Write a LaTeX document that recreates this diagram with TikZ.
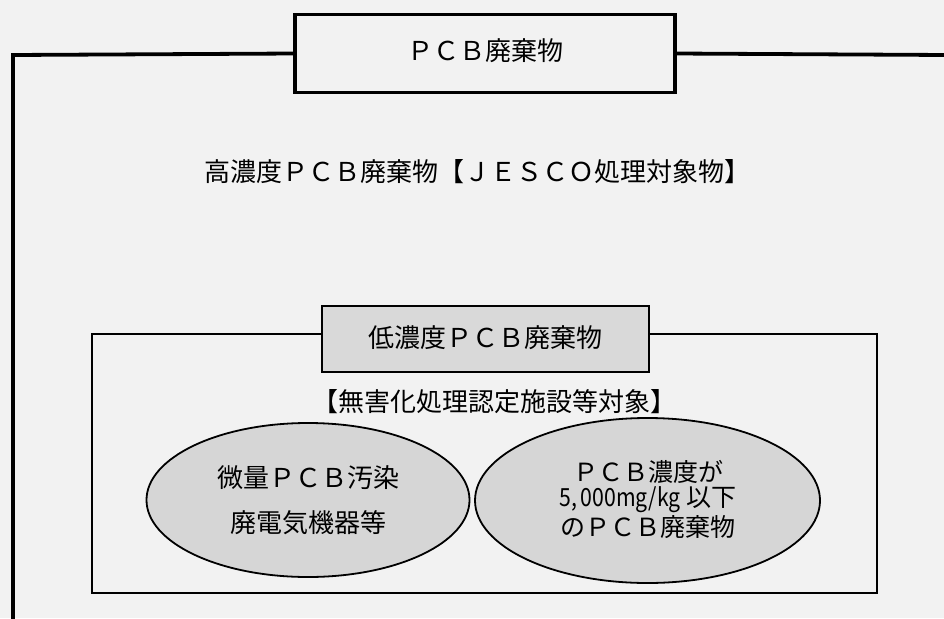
\documentclass[tikz,border=0pt]{standalone}
\usepackage{fontspec}
\usetikzlibrary{shapes.geometric}
\setmainfont{Noto Sans CJK JP}
\definecolor{bgc}{gray}{0.95}
\definecolor{ellc}{gray}{0.84}
\definecolor{boxc}{gray}{0.85}
\begin{document}
\begin{tikzpicture}[x=1pt,y=-1pt,
  every node/.style={inner sep=0pt,outer sep=0pt},
  txt/.style={font=\fontsize{26}{30}\selectfont},
  thickbox/.style={draw,line width=3.6pt,fill=bgc},
  graybox/.style={draw,line width=2pt,fill=boxc},
  oval/.style={ellipse,draw,line width=1.8pt,fill=ellc},
]
\useasboundingbox (0,0) rectangle (944,618);
\fill[bgc] (0,0) rectangle (944,618);
% outer frame
\coordinate (fl) at (13,55);
\coordinate (fb) at (13,620);
\coordinate (fr) at (946,55);
% top title box
\node[thickbox,minimum width=380pt,minimum height=78pt] (top) at (485,53.5) {};
\node[txt] (toptext) at (485,51) {ＰＣＢ廃棄物};
\draw[line width=3.8pt] (top.west) -- (fl) -- (fb);
\draw[line width=3.8pt] (top.east) -- (fr);
% high concentration text
\node[txt] (high) at (477,172) {高濃度ＰＣＢ廃棄物【ＪＥＳＣＯ処理対象物】};
% inner box
\node[draw,line width=2pt,minimum width=785pt,minimum height=259pt] (inner) at (484.5,463.5) {};
\node[graybox,minimum width=327pt,minimum height=66pt] (low) at (485.5,339) {};
\node[txt] (lowtext) at (485,338) {低濃度ＰＣＢ廃棄物};
\node[txt] (sub) at (494,402) {【無害化処理認定施設等対象】};
% ellipses
\node[oval,minimum width=323pt,minimum height=154pt] (e1) at (308,500) {};
\node[oval,minimum width=345pt,minimum height=165pt] (e2) at (647.5,500.5) {};
\node[txt] (e1a) at (308,478) {微量ＰＣＢ汚染};
\node[txt] (e1b) at (308,523) {廃電気機器等};
\node[font=\fontsize{25}{28}\selectfont] (e2a) at (648,472) {ＰＣＢ濃度が};
\node[font=\fontsize{25}{28}\selectfont] (e2b) at (648,500) {\scalebox{0.85}[1]{5,\,000mg/kg} 以下};
\node[font=\fontsize{25}{28}\selectfont] (e2c) at (648,527) {のＰＣＢ廃棄物};
\end{tikzpicture}
\end{document}
